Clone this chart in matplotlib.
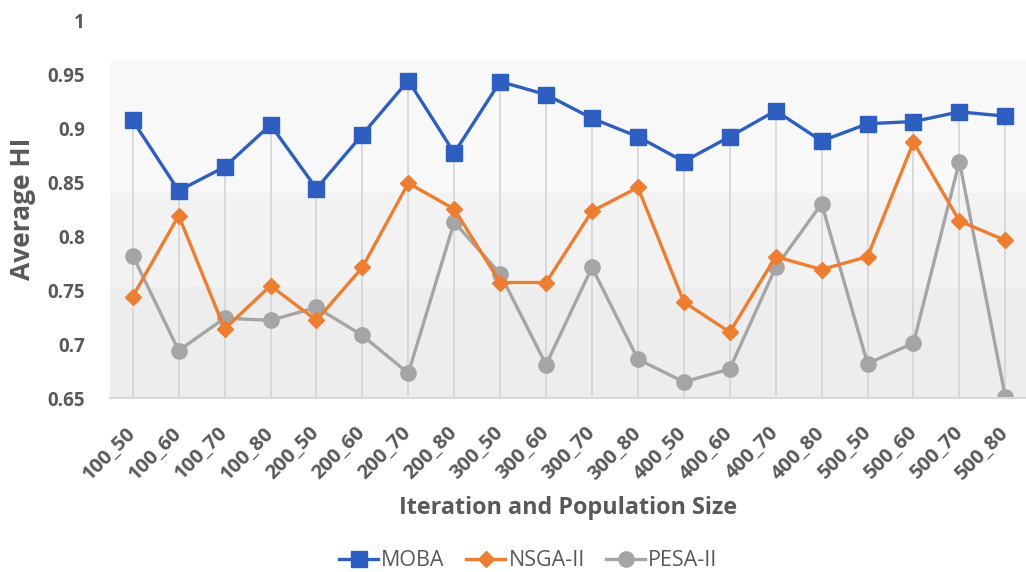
import matplotlib
matplotlib.use('Agg')
import matplotlib.pyplot as plt
import numpy as np

# data
categories = ['100_50', '100_60', '100_70', '100_80', '200_50', '200_60', '200_70', '200_80',
              '300_50', '300_60', '300_70', '300_80', '400_50', '400_60', '400_70', '400_80',
              '500_50', '500_60', '500_70', '500_80']
moba = [0.907, 0.842, 0.864, 0.903, 0.844, 0.894, 0.944, 0.877, 0.943, 0.931,
        0.909, 0.892, 0.869, 0.892, 0.916, 0.888, 0.904, 0.906, 0.915, 0.911]
nsga = [0.744, 0.819, 0.714, 0.754, 0.722, 0.771, 0.849, 0.825, 0.757, 0.757,
        0.823, 0.845, 0.739, 0.711, 0.781, 0.769, 0.781, 0.887, 0.814, 0.796]
pesa = [0.782, 0.694, 0.724, 0.722, 0.734, 0.708, 0.673, 0.813, 0.765, 0.681,
        0.771, 0.686, 0.665, 0.677, 0.771, 0.830, 0.682, 0.701, 0.869, 0.651]

plt.rcParams['font.family'] = ['Open Sans', 'DejaVu Sans']
text_col = '#595959'

fig = plt.figure(figsize=(10.26, 5.72), dpi=100)
ax = fig.add_axes([0.107, 0.304, 0.893, 0.661])

x = np.arange(len(categories))

# gradient-ish background bands (Excel plot area fill)
ax.axhspan(0.84, 0.962, color='#f8f8f8', zorder=0, lw=0)
ax.axhspan(0.753, 0.84, color='#f2f2f2', zorder=0, lw=0)
ax.axhspan(0.65, 0.753, color='#ededed', zorder=0, lw=0)

# drop lines from highest point to axis
tops = np.maximum(np.maximum(moba, nsga), pesa)
ax.vlines(x, 0.65, tops, color='#d4d4d4', lw=1.2, zorder=1)

ax.plot(x, moba, color='#2e5fc0', marker='s', markersize=11, lw=2.4, label='MOBA', zorder=4)
ax.plot(x, nsga, color='#ed7d31', marker='D', markersize=8, lw=2.4, label='NSGA-II', zorder=3)
ax.plot(x, pesa, color='#a5a5a5', marker='o', markersize=11, lw=2.4, label='PESA-II', zorder=2)

ax.set_xlim(-0.5, 19.45)
ax.set_ylim(0.65, 1.0)
ax.set_yticks([0.65, 0.7, 0.75, 0.8, 0.85, 0.9, 0.95, 1.0])
ax.set_yticklabels(['0.65', '0.7', '0.75', '0.8', '0.85', '0.9', '0.95', '1'])
ax.set_xticks(x)
ax.set_xticklabels(categories, rotation=45, ha='right', va='center', rotation_mode='anchor')

for s in ['top', 'right', 'left']:
    ax.spines[s].set_visible(False)
ax.spines['bottom'].set_color('#d9d9d9')
ax.spines['bottom'].set_linewidth(1.5)
ax.tick_params(axis='both', length=0, colors=text_col)
ax.tick_params(axis='y', pad=18, labelsize=13.5)
ax.tick_params(axis='x', pad=23, labelsize=14.5)
for lab in ax.get_xticklabels() + ax.get_yticklabels():
    lab.set_fontweight('bold')

ax.set_ylabel('Average HI', fontsize=19, fontweight='bold', color=text_col, labelpad=8)
ax.set_xlabel('Iteration and Population Size', fontsize=16.8, fontweight='bold', color=text_col, labelpad=9)

fig.legend(loc='center', bbox_to_anchor=(0.515, 0.02), ncol=3, frameon=False,
           fontsize=15.5, handlelength=1.8, columnspacing=1.0, handletextpad=0.15,
           labelcolor=text_col)

fig.savefig('out.png', dpi=100)
